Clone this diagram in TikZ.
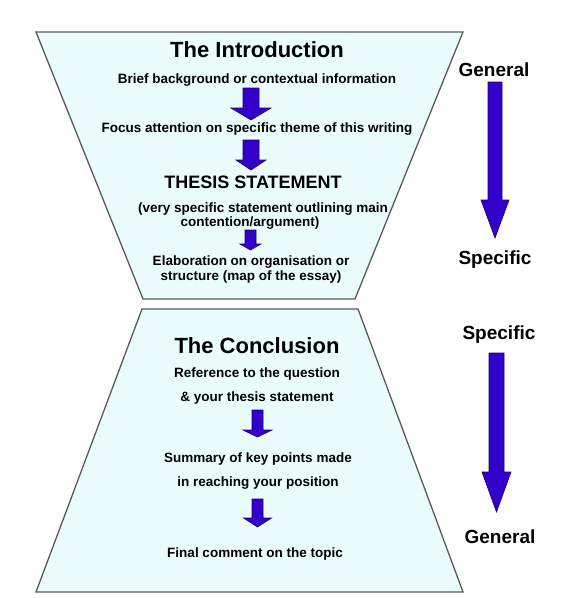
\documentclass[tikz,border=0pt]{standalone}
\usepackage{fontspec}
\setmainfont{Liberation Sans}
\usetikzlibrary{calc}
\definecolor{funnelfill}{HTML}{EBFCFC}
\definecolor{funnelline}{HTML}{5A5A5A}
\definecolor{arrowblue}{HTML}{3300CC}
\definecolor{arrowline}{HTML}{1A0066}

\begin{document}
\begin{tikzpicture}[x=1pt,y=-1pt]
                      \tikzstyle{funnel}=[draw=funnelline,fill=funnelfill,line width=1.3pt]
                      \tikzstyle{blockarrow}=[draw=arrowline,fill=arrowblue,line width=0.6pt,line join=miter]
                      \tikzstyle{title}=[inner sep=0pt,anchor=base,font=\bfseries\fontsize{22}{26}\selectfont]
                      \tikzstyle{body}=[inner sep=0pt,anchor=base,font=\bfseries\fontsize{13.5}{16}\selectfont]
                      \tikzstyle{side}=[inner sep=0pt,anchor=base,font=\bfseries\fontsize{19}{22}\selectfont]
                      \useasboundingbox (0,0) rectangle (572,598);
                      % the two funnels
                      \draw[funnel] (36,32) -- (463,32) -- (355,299) -- (143,299) -- cycle;
                      \draw[funnel] (142,309) -- (358,309) -- (463,592) -- (36,592) -- cycle;
                      % block arrows: centre/top/neck/tip/shaft/head
                      \foreach \cx/\top/\neck/\tip/\sw/\hw in {251/88/108/120/8/20, 251/140/160/170/8/15, 250.5/230/244/250/5.5/10.5, 257.5/410/430/437/5.5/14.5, 257.5/499/518/527/5.5/14, 495/82/200/238/7/14, 496.5/353/472/512/7.5/14.5}
                        \draw[blockarrow] ({\cx-\sw},\top) -- ({\cx+\sw},\top) -- ({\cx+\sw},\neck) -- ({\cx+\hw},\neck) -- (\cx,\tip) -- ({\cx-\hw},\neck) -- ({\cx-\sw},\neck) -- cycle;
                      % introduction
                      \node[title] (intro) at (257,57) {The Introduction};
                      \node[body] (brief) at (257,83) {Brief background or contextual information};
                      \node[body] (focus) at (257,132) {Focus attention on specific theme of this writing};
                      \node[inner sep=0pt,anchor=base,font=\bfseries\fontsize{18}{22}\selectfont] (thesis) at (253,188) {THESIS STATEMENT};
                      \node[body] (thesisa) at (263,212) {(very specific statement outlining main};
                      \node[body] (thesisb) at (250,226) {contention/argument)};
                      \node[body] (elab) at (251,265) {Elaboration on organisation or};
                      \node[body] (elabb) at (251,280) {structure (map of the essay)};
                      % conclusion
                      \node[title] (concl) at (257,353) {The Conclusion};
                      \node[body] (refa) at (257,377) {Reference to the question};
                      \node[body] (refb) at (257,401) {\& your thesis statement};
                      \node[body] (suma) at (258,462) {Summary of key points made};
                      \node[body] (sumb) at (258,486) {in reaching your position};
                      \node[body] (final) at (255,557) {Final comment on the topic};
                      % side labels
                      \node[side] (genup) at (494,76) {General};
                      \node[side] (specup) at (495,264) {Specific};
                      \node[side] (specdown) at (499,339) {Specific};
                      \node[side] (gendown) at (500,543) {General};
                  \end{tikzpicture}
\end{document}
